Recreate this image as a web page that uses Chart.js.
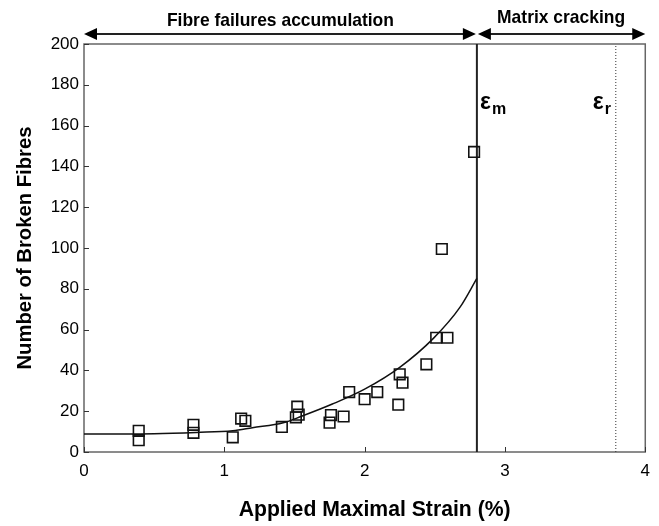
<!DOCTYPE html>
<html>
<head>
<meta charset="utf-8">
<script src="https://cdn.jsdelivr.net/npm/chart.js@4/dist/chart.umd.min.js"></script>
<style>
  html, body { margin: 0; padding: 0; background: #fff; }
  #wrap { width: 659px; height: 526px; }
</style>
</head>
<body>
<div id="wrap"><canvas id="strain-chart" width="659" height="526"></canvas></div>
<script>
// measured fibre breaks
const strainPts = [0.39, 0.39, 0.78, 0.78, 1.06, 1.12, 1.15, 1.41, 1.52, 1.53, 1.51, 1.76, 1.75, 1.85, 1.89, 2.00, 2.09, 2.24, 2.25, 2.27, 2.44, 2.51, 2.59, 2.55, 2.78];
const brokenPts = [10.4, 5.8, 13.3, 9.4, 7.2, 16.4, 15.3, 12.3, 22.2, 18.3, 17.0, 18.1, 14.4, 17.4, 29.4, 25.9, 29.4, 23.2, 38.1, 34.0, 43.0, 56.0, 56.0, 99.5, 147.1];

// fitted curve
const fitStrain = [0, 0.5, 0.8, 1.06, 1.2, 1.42, 1.55, 1.77, 2.0, 2.25, 2.49, 2.68, 2.8];
const fitBroken = [8.8, 9.0, 9.6, 10.4, 11.9, 14.3, 17.5, 23.5, 30.8, 41.5, 55.7, 71.0, 85.1];

// critical strains
const epsM = 2.8;
const epsR = 3.79;

// axes
const xTicks = [0, 1, 2, 3, 4];
const yTicks = [0, 20, 40, 60, 80, 100, 120, 140, 160, 180, 200];

const FONT = '"Liberation Sans", Arial, sans-serif';
Chart.defaults.font.family = FONT;
Chart.defaults.color = '#000';

function arrowHead(ctx, x, y, dir) {
    ctx.beginPath();
    ctx.moveTo(x, y);
    ctx.lineTo(x - dir * 13, y - 6);
    ctx.lineTo(x - dir * 13, y + 6);
    ctx.closePath();
    ctx.fill();
}

// bold label squeezed to the width it has in the picture
function narrowText(ctx, text, cx, cy, size, width) {
    ctx.save();
    ctx.font = 'bold ' + size + 'px ' + FONT;
    const w = ctx.measureText(text).width;
    ctx.translate(cx, cy);
    ctx.scale(Math.min(1, width / w), 1);
    ctx.fillText(text, 0, 0);
    ctx.restore();
}

const decorations = {
    id: 'decorations',
    beforeDatasetsDraw(chart) {
        const ctx = chart.ctx;
        const a = chart.chartArea;
        const xs = chart.scales.x, ys = chart.scales.y;
        ctx.save();
        // frame
        ctx.strokeStyle = '#666';
        ctx.lineWidth = 1.5;
        ctx.strokeRect(a.left, a.top, a.right - a.left, a.bottom - a.top);
        // inward ticks
        ctx.strokeStyle = '#333';
        ctx.lineWidth = 1;
        xTicks.forEach(v => {
            const px = Math.round(xs.getPixelForValue(v)) + 0.5;
            ctx.beginPath();
            ctx.moveTo(px, a.bottom);
            ctx.lineTo(px, a.bottom - 5);
            ctx.stroke();
        });
        yTicks.forEach(v => {
            const py = Math.round(ys.getPixelForValue(v)) + 0.5;
            ctx.beginPath();
            ctx.moveTo(a.left, py);
            ctx.lineTo(a.left + 5, py);
            ctx.stroke();
        });
        ctx.restore();
    },
    afterDatasetsDraw(chart) {
        const ctx = chart.ctx;
        const a = chart.chartArea;
        const xs = chart.scales.x;
        const x0 = xs.getPixelForValue(0);
        const xm = xs.getPixelForValue(epsM);
        const xr = xs.getPixelForValue(epsR);
        const x4 = xs.getPixelForValue(4);
        const ay = a.top - 10;
        ctx.save();

        // region arrows
        ctx.strokeStyle = '#222';
        ctx.fillStyle = '#000';
        ctx.lineWidth = 2;
        ctx.beginPath();
        ctx.moveTo(x0 + 8, ay);
        ctx.lineTo(xm - 8, ay);
        ctx.moveTo(xm + 8, ay);
        ctx.lineTo(x4 - 8, ay);
        ctx.stroke();
        arrowHead(ctx, x0, ay, -1);
        arrowHead(ctx, xm - 1, ay, 1);
        arrowHead(ctx, xm + 1, ay, -1);
        arrowHead(ctx, x4, ay, 1);

        ctx.textAlign = 'center';
        ctx.textBaseline = 'middle';
        narrowText(ctx, 'Fibre failures accumulation', (x0 + xm) / 2, 21, 19, 227);
        narrowText(ctx, 'Matrix cracking', (xm + x4) / 2, 18, 19, 128);

        // epsilon labels
        ctx.textAlign = 'left';
        ctx.textBaseline = 'alphabetic';
        ctx.font = 'bold 23px ' + FONT;
        ctx.fillText('\u03b5', xm + 3, 109);
        ctx.fillText('\u03b5', xr - 23, 109);
        ctx.font = 'bold 16px ' + FONT;
        ctx.fillText('m', xm + 15, 114);
        ctx.fillText('r', xr - 11, 114);

        // axis titles
        ctx.textAlign = 'center';
        ctx.textBaseline = 'middle';
        narrowText(ctx, 'Applied Maximal Strain (%)', (a.left + a.right) / 2 + 10, 510, 22, 272);
        ctx.save();
        ctx.translate(25, 248);
        ctx.rotate(-Math.PI / 2);
        narrowText(ctx, 'Number of Broken Fibres', 0, 0, 21, 243);
        ctx.restore();

        ctx.restore();
    }
};

const ctx = document.getElementById('strain-chart').getContext('2d');
new Chart(ctx, {
    type: 'scatter',
    data: {
        datasets: [
            {
                label: 'Fit',
                data: fitStrain.map((s, i) => ({ x: s, y: fitBroken[i] })),
                showLine: true,
                borderColor: '#111',
                borderWidth: 1.5,
                pointRadius: 0,
                cubicInterpolationMode: 'monotone',
                fill: false
            },
            {
                label: 'Broken fibres',
                data: strainPts.map((s, i) => ({ x: s, y: brokenPts[i] })),
                pointStyle: 'rect',
                pointRadius: 7.5,
                pointBorderWidth: 1.6,
                borderColor: '#111',
                backgroundColor: 'rgba(0,0,0,0)'
            },
            {
                label: 'eps m',
                data: [{ x: epsM, y: 0 }, { x: epsM, y: 200 }],
                showLine: true,
                borderColor: '#222',
                borderWidth: 2,
                pointRadius: 0
            },
            {
                label: 'eps r',
                data: [{ x: epsR, y: 0 }, { x: epsR, y: 200 }],
                showLine: true,
                borderColor: '#333',
                borderWidth: 1,
                borderDash: [1, 2],
                pointRadius: 0
            }
        ]
    },
    options: {
        responsive: false,
        animation: false,
        layout: { padding: { left: 0, top: 44, right: 13, bottom: 0 } },
        plugins: {
            legend: { display: false },
            tooltip: { enabled: false }
        },
        scales: {
            x: {
                type: 'linear',
                min: 0,
                max: 4,
                afterBuildTicks: (scale) => { scale.ticks = xTicks.map(v => ({ value: v })); },
                afterFit: (scale) => { scale.height = 74; },
                ticks: { font: { size: 17 }, padding: 9, color: '#000' },
                grid: { display: false, drawTicks: false },
                border: { display: false }
            },
            y: {
                type: 'linear',
                min: 0,
                max: 200,
                afterBuildTicks: (scale) => { scale.ticks = yTicks.map(v => ({ value: v })); },
                afterFit: (scale) => { scale.width = 84; },
                ticks: { font: { size: 17 }, padding: 5, color: '#000' },
                grid: { display: false, drawTicks: false },
                border: { display: false }
            }
        }
    },
    plugins: [decorations]
});
</script>
</body>
</html>
